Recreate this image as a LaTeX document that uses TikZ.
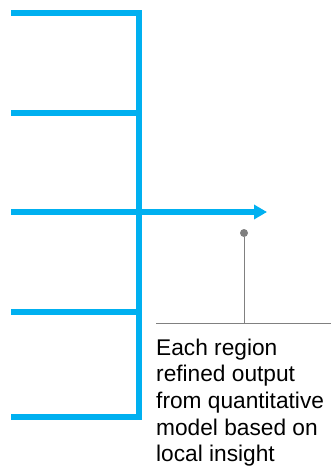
\documentclass[tikz,border=0pt]{standalone}
\usepackage{fontspec}
\setmainfont{Liberation Sans}
\usetikzlibrary{arrows.meta,positioning}
\definecolor{regblue}{RGB}{0,176,240}
\definecolor{notegray}{RGB}{128,128,128}
\tikzset{
  feed/.style={draw=regblue, line width=6pt},
  mainarr/.style={feed, -{Triangle[length=13pt,width=14pt]}},
  leader/.style={draw=notegray, line width=1pt},
  pindot/.style={circle, fill=notegray, inner sep=0pt, minimum size=8pt},
  note/.style={align=left, inner sep=0pt, anchor=north west,
    font=\fontsize{22.7}{26.7}\selectfont}
}

\begin{document}
\begin{tikzpicture}[x=1pt,y=-1pt]
        \useasboundingbox (0,0) rectangle (331,468);

        % region inputs and collecting bus
        \coordinate (r1) at (11,13);
        \coordinate (r2) at (11,113);
        \coordinate (r3) at (11,212);
        \coordinate (r4) at (11,312);
        \coordinate (r5) at (11,417);
        \coordinate (bustop) at (139,13);
        \coordinate (busbot) at (139,417);
        \coordinate (b2) at (139,113);
        \coordinate (b4) at (139,312);
        \coordinate (out) at (267,212);

        \draw[feed] (r1) -- (bustop) -- (busbot) -- (r5);
        \draw[feed] (r2) -- (b2);
        \draw[feed] (r4) -- (b4);
        \draw[mainarr] (r3) -- (out);

        % callout
        \node[pindot] (pin) at (244,233) {};
        \coordinate (foot) at (244,323);
        \coordinate (rulew) at (156,323);
        \coordinate (rulee) at (331,323);
        \draw[leader] (pin) -- (foot);
        \draw[leader] (rulew) -- (rulee);

        \node[note] (txt) at (156,338.5) {Each region\\refined output\\from quantitative\\model based on\\local insight};
      \end{tikzpicture}
\end{document}
